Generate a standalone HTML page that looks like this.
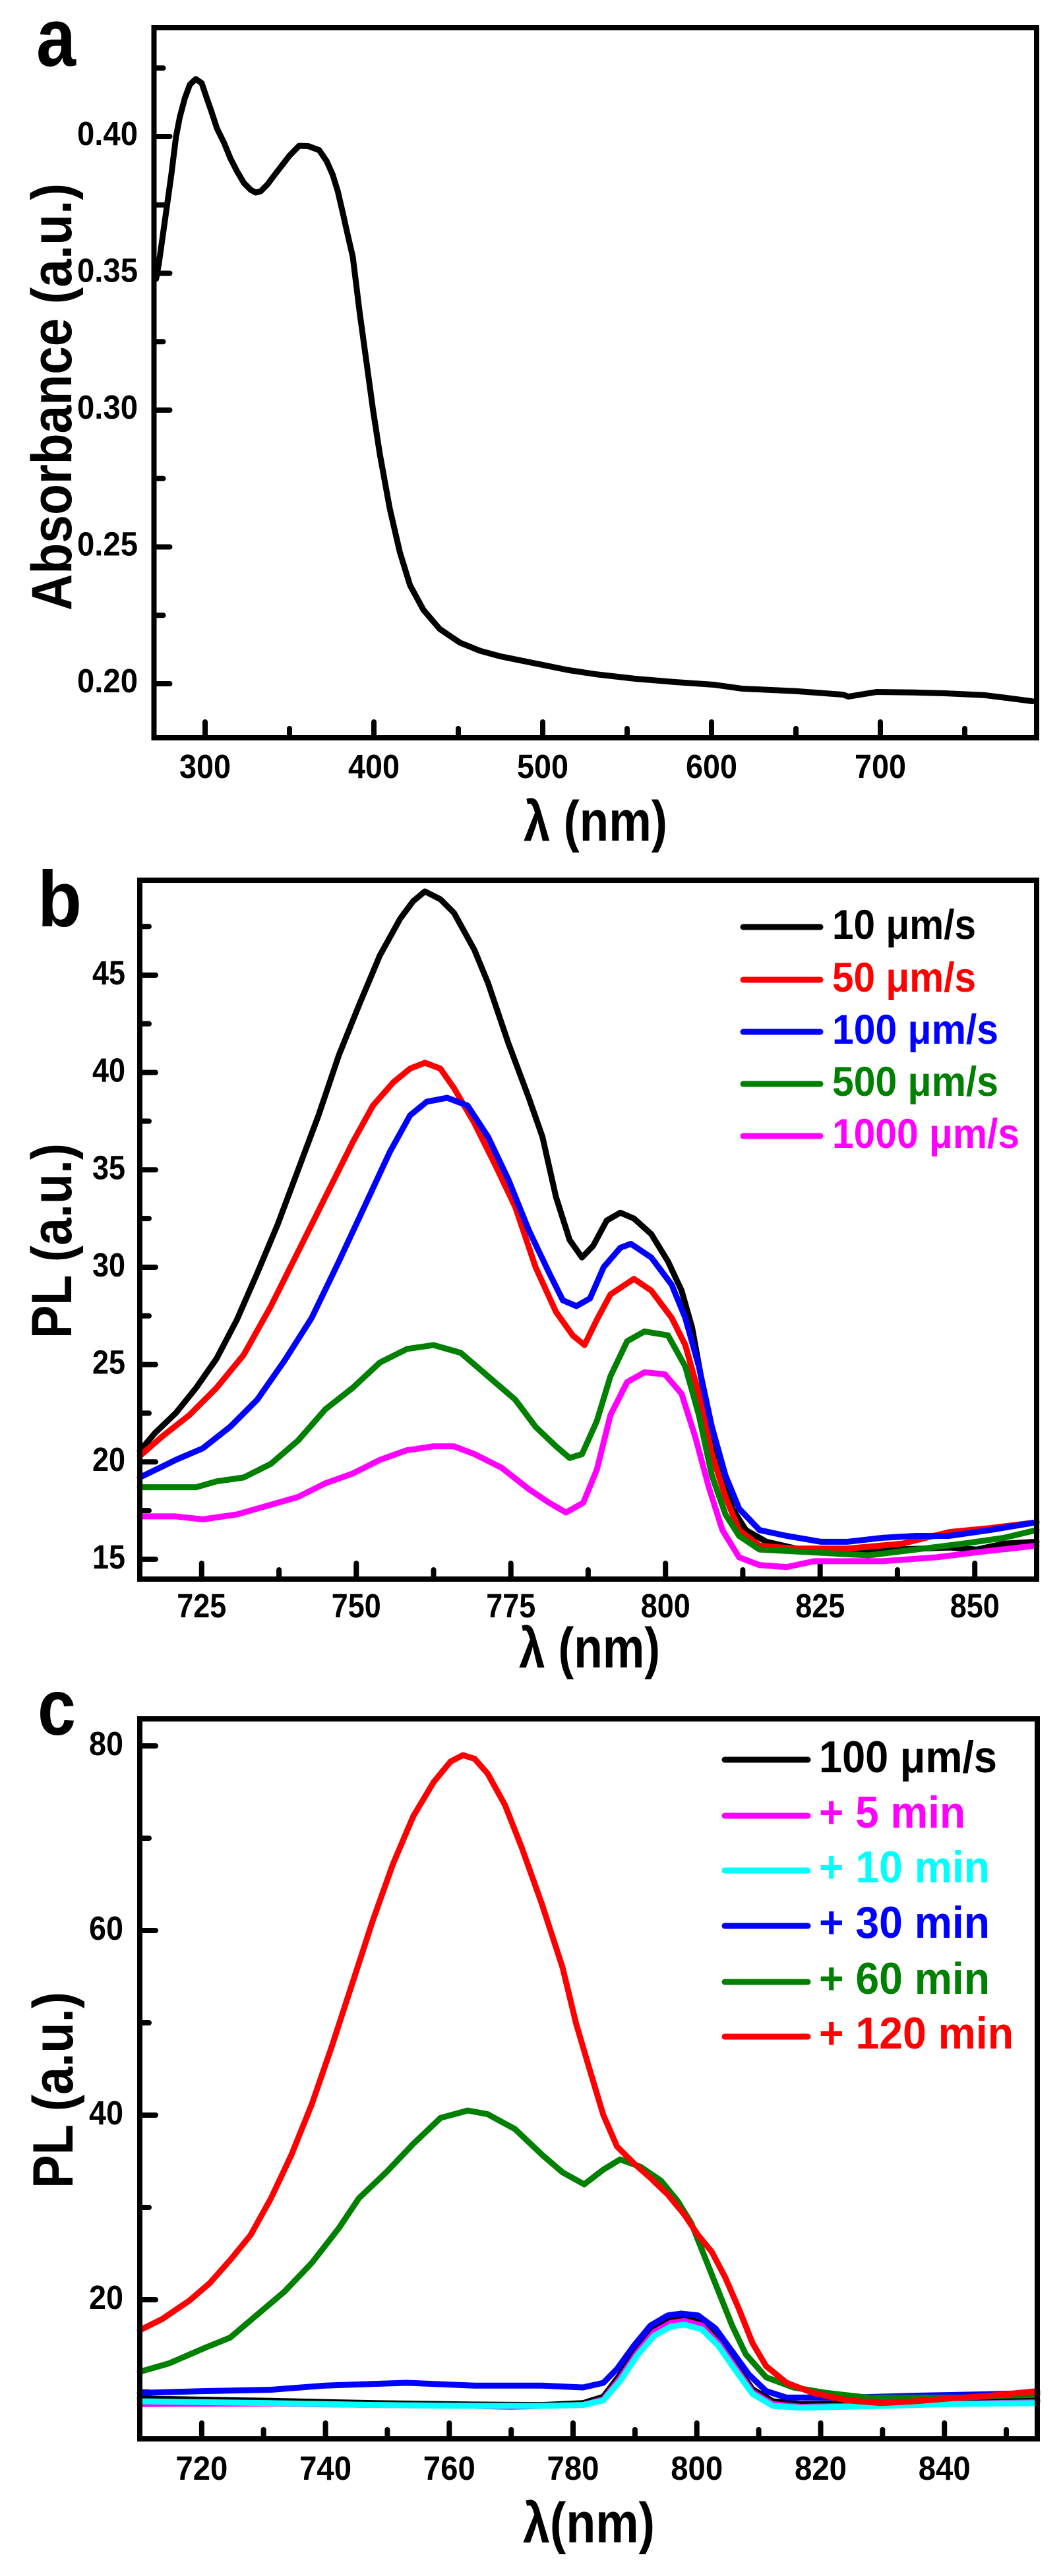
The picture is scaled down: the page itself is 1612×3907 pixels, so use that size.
<!DOCTYPE html>
<html>
<head>
<meta charset="utf-8">
<style>
html,body{margin:0;padding:0;background:#fff;}
svg{display:block;}
text{font-family:"Liberation Sans",Arial,sans-serif;font-weight:bold;}
</style>
</head>
<body>
<svg width="1612" height="3907" viewBox="0 0 1612 3907" xmlns="http://www.w3.org/2000/svg">
<rect x="0" y="0" width="1612" height="3907" fill="#fff"/>

<!-- ================= PANEL A ================= -->
<text x="55" y="100" font-size="125" textLength="60" lengthAdjust="spacingAndGlyphs">a</text>

<g fill="none" stroke="#000" stroke-width="8" stroke-linecap="round">
<path d="M233.5 1037h24 M233.5 829.5h24 M233.5 622h24 M233.5 414.5h24 M233.5 207h24"/>
<path d="M233.5 933.25h14 M233.5 725.75h14 M233.5 518.25h14 M233.5 310.75h14 M233.5 103.25h14"/>
<path d="M311 1119v-24 M567 1119v-24 M823 1119v-24 M1079 1119v-24 M1335 1119v-24"/>
<path d="M439 1119v-14 M695 1119v-14 M951 1119v-14 M1207 1119v-14 M1463 1119v-14"/>
</g>

<g font-size="51" text-anchor="end">
<text x="209" y="1050" textLength="92" lengthAdjust="spacingAndGlyphs">0.20</text>
<text x="209" y="842.5" textLength="92" lengthAdjust="spacingAndGlyphs">0.25</text>
<text x="209" y="635" textLength="92" lengthAdjust="spacingAndGlyphs">0.30</text>
<text x="209" y="427.5" textLength="92" lengthAdjust="spacingAndGlyphs">0.35</text>
<text x="209" y="220" textLength="92" lengthAdjust="spacingAndGlyphs">0.40</text>
</g>
<g font-size="51" text-anchor="middle">
<text x="311" y="1180" textLength="78" lengthAdjust="spacingAndGlyphs">300</text>
<text x="567" y="1180" textLength="78" lengthAdjust="spacingAndGlyphs">400</text>
<text x="823" y="1180" textLength="78" lengthAdjust="spacingAndGlyphs">500</text>
<text x="1079" y="1180" textLength="78" lengthAdjust="spacingAndGlyphs">600</text>
<text x="1335" y="1180" textLength="78" lengthAdjust="spacingAndGlyphs">700</text>
</g>

<text transform="translate(108,602) rotate(-90)" font-size="86" text-anchor="middle" textLength="648" lengthAdjust="spacingAndGlyphs">Absorbance (a.u.)</text>
<text x="903" y="1275" font-size="86" text-anchor="middle" textLength="218" lengthAdjust="spacingAndGlyphs">λ (nm)</text>

<g transform="matrix(2.56 0 0 -4.15 -457 1867)">
<polyline vector-effect="non-scaling-stroke" fill="none" stroke="#000" stroke-width="9" stroke-linejoin="round" stroke-linecap="round" points="271,348 272.6,353.5 275,364 277.5,375 280,386 282.8,400 285,407 288,414 291,419 294.5,421 298,419.5 301,414 303.5,409.6 307,403 311.3,397.6 315,392 319,387.2 323,383 327,380.5 330,379.5 333,380 337,382.5 340,385 345,389 350,393 355.7,396.6 361,396.5 367.6,395 372,391 375.6,386 378.6,380 381.6,372 384.5,364 387.5,356 391.5,336 395.5,318 399.5,300 403.5,284 409.4,264 415.4,248 421.4,236 429.3,227 439,220 451,215 463,212 475,210 499,207 515,205 531,203.5 555,201.8 578.6,200.6 602,199.6 618,198.2 650,197.3 678,196 681,195.3 688,196 698,197 720,196.8 738,196.5 762,195.8 775,194.8 790,193.6"/>
</g>

<rect x="233.5" y="42" width="1338.5" height="1077" fill="none" stroke="#000" stroke-width="8"/>

<!-- ================= PANEL B ================= -->
<text x="57" y="1405" font-size="120" textLength="67" lengthAdjust="spacingAndGlyphs">b</text>

<g fill="none" stroke="#000" stroke-width="8" stroke-linecap="round">
<path d="M212 2364.9h24 M212 2217.2h24 M212 2069.6h24 M212 1921.95h24 M212 1774.3h24 M212 1626.65h24 M212 1479h24"/>
<path d="M212 2291.1h14 M212 2143.4h14 M212 1995.8h14 M212 1848.1h14 M212 1700.5h14 M212 1552.8h14 M212 1405.2h14"/>
<path d="M305.8 2395v-24 M540.3 2395v-24 M774.7 2395v-24 M1009.2 2395v-24 M1243.7 2395v-24 M1478.2 2395v-24"/>
<path d="M423.1 2395v-14 M657.5 2395v-14 M891.9 2395v-14 M1126.4 2395v-14 M1360.9 2395v-14"/>
</g>

<g font-size="51" text-anchor="end">
<text x="190" y="2379" textLength="50" lengthAdjust="spacingAndGlyphs">15</text>
<text x="190" y="2231" textLength="50" lengthAdjust="spacingAndGlyphs">20</text>
<text x="190" y="2083.6" textLength="50" lengthAdjust="spacingAndGlyphs">25</text>
<text x="190" y="1936" textLength="50" lengthAdjust="spacingAndGlyphs">30</text>
<text x="190" y="1788.3" textLength="50" lengthAdjust="spacingAndGlyphs">35</text>
<text x="190" y="1640.6" textLength="50" lengthAdjust="spacingAndGlyphs">40</text>
<text x="190" y="1493" textLength="50" lengthAdjust="spacingAndGlyphs">45</text>
</g>
<g font-size="51" text-anchor="middle">
<text x="305.8" y="2453" textLength="75" lengthAdjust="spacingAndGlyphs">725</text>
<text x="540.3" y="2453" textLength="75" lengthAdjust="spacingAndGlyphs">750</text>
<text x="774.7" y="2453" textLength="75" lengthAdjust="spacingAndGlyphs">775</text>
<text x="1009.2" y="2453" textLength="75" lengthAdjust="spacingAndGlyphs">800</text>
<text x="1243.7" y="2453" textLength="75" lengthAdjust="spacingAndGlyphs">825</text>
<text x="1478.2" y="2453" textLength="75" lengthAdjust="spacingAndGlyphs">850</text>
</g>

<text transform="translate(108,1882) rotate(-90)" font-size="86" text-anchor="middle" textLength="296" lengthAdjust="spacingAndGlyphs">PL (a.u.)</text>
<text x="894" y="2529" font-size="86" text-anchor="middle" textLength="214" lengthAdjust="spacingAndGlyphs">λ (nm)</text>

<g transform="matrix(9.379 0 0 -29.53 -6494 2807.85)" fill="none" stroke-width="9" stroke-linejoin="round" stroke-linecap="round">
<polyline vector-effect="non-scaling-stroke" stroke="#000" points="715,20.56 717.5,21.5 720.8,22.5 724.1,23.8 727.4,25.3 730.7,27.3 734,29.7 737.3,32.2 740.6,35 743.9,37.8 747.2,40.9 750.5,43.5 753.8,46 757.1,47.9 759.2,48.8 761.1,49.3 763.6,48.9 765.8,48.2 769.1,46.3 771.3,44.6 774.6,41.5 777.9,38.7 780.1,36.7 782.3,33.6 784.5,31.4 786.5,30.5 788.3,31.1 790.5,32.4 792.7,32.8 794.9,32.5 797.7,31.7 800.4,30.3 802.6,28.8 804.3,26.9 805.9,24.1 807.5,21.5 809.2,19.3 810.8,17.6 813,16.5 816.3,15.9 821.8,15.5 829.5,15.35 837.2,15.5 845.9,15.6 850.3,15.5 854.7,15.8 860,15.9"/>
<polyline vector-effect="non-scaling-stroke" stroke="#f00" points="715,20.3 718.6,21.3 723,22.4 727.4,23.8 731.8,25.5 736.2,28 740.6,30.8 745,33.6 749.4,36.4 752.7,38.3 756,39.5 758.7,40.2 761.1,40.5 763.6,40.2 765.8,39.2 769.1,37.4 772.4,35.3 775.7,33.1 779,30 782.3,27.7 785,26.5 786.9,26 788.9,27.3 791.1,28.6 794.9,29.4 797.7,28.8 801,27.4 803.2,26 805.4,23.5 807.5,20.4 809.7,18.2 811.9,16.5 815.2,15.7 820.7,15.55 829.5,15.55 838.3,15.8 845.9,16.4 852.5,16.6 860,16.9"/>
<polyline vector-effect="non-scaling-stroke" stroke="#00f" points="715,19.2 720.8,20.1 725.2,20.7 729.6,21.8 734,23.2 738.4,25.2 742.8,27.4 747.2,30.3 751.6,33.3 755.4,35.9 758.7,37.8 761.4,38.5 764.7,38.7 768,38.3 771.3,36.7 774.6,34.5 777.9,31.9 781.2,29.7 783.4,28.3 785.6,28 787.8,28.4 790,30 792.7,31 794.4,31.2 797.7,30.5 801,29.1 803.2,27.4 805.4,24.9 807.5,21.8 809.7,19.3 811.9,17.6 815.2,16.5 819.6,16.2 825.1,15.9 829.5,15.9 835,16.1 840.5,16.2 845.9,16.2 852.5,16.5 860,16.9"/>
<polyline vector-effect="non-scaling-stroke" stroke="#008000" points="715,18.7 724.1,18.7 727.4,19 731.8,19.2 736.2,19.9 740.6,21.1 745,22.7 749.4,23.8 753.8,25.1 758.2,25.8 762.5,26 766.9,25.6 771.3,24.4 775.7,23.2 779,21.8 782.3,20.8 784.5,20.2 786.5,20.4 788.9,22.1 791.1,24.4 793.8,26.2 796.6,26.7 800.4,26.5 803.2,24.9 805.4,22.4 807.5,19.3 809.7,17.3 811.9,16.2 815.2,15.5 824,15.35 832.8,15.2 840.5,15.5 848.1,15.8 854.7,16.1 860,16.5"/>
<polyline vector-effect="non-scaling-stroke" stroke="#f0f" points="715,17.2 720.8,17.2 725.2,17.05 730.7,17.3 736.2,17.8 740.6,18.2 745,18.9 749.4,19.4 753.8,20.1 758.2,20.6 762.5,20.8 765.8,20.8 769.1,20.4 773.5,19.7 777.9,18.6 781.2,17.9 783.9,17.4 786.7,17.9 788.9,19.6 791.1,22.4 793.8,24.1 796.6,24.6 799.9,24.5 802.6,23.5 804.8,21.3 807,18.7 809.2,16.5 811.9,15.1 815.2,14.7 819.6,14.6 824,14.9 835,14.9 843.8,15.1 851.5,15.4 860,15.7"/>
</g>

<!-- legend b -->
<g stroke-width="9" stroke-linecap="round">
<line x1="1127" y1="1406" x2="1244" y2="1406" stroke="#000"/>
<line x1="1127" y1="1486" x2="1244" y2="1486" stroke="#f00"/>
<line x1="1127" y1="1565" x2="1244" y2="1565" stroke="#00f"/>
<line x1="1127" y1="1644" x2="1244" y2="1644" stroke="#008000"/>
<line x1="1127" y1="1723" x2="1244" y2="1723" stroke="#f0f"/>
</g>
<g font-size="63">
<text x="1262" y="1424" fill="#000" textLength="218" lengthAdjust="spacingAndGlyphs">10 μm/s</text>
<text x="1262" y="1504" fill="#f00" textLength="218" lengthAdjust="spacingAndGlyphs">50 μm/s</text>
<text x="1262" y="1583" fill="#00f" textLength="252" lengthAdjust="spacingAndGlyphs">100 μm/s</text>
<text x="1262" y="1662" fill="#008000" textLength="252" lengthAdjust="spacingAndGlyphs">500 μm/s</text>
<text x="1262" y="1741" fill="#f0f" textLength="284" lengthAdjust="spacingAndGlyphs">1000 μm/s</text>
</g>

<rect x="212" y="1335" width="1360" height="1060" fill="none" stroke="#000" stroke-width="8"/>

<!-- ================= PANEL C ================= -->
<text x="57" y="2631" font-size="121" textLength="58" lengthAdjust="spacingAndGlyphs">c</text>

<g fill="none" stroke="#000" stroke-width="8" stroke-linecap="round">
<path d="M212 3488h24 M212 3208h24 M212 2928h24 M212 2648h24"/>
<path d="M212 3628h14 M212 3348h14 M212 3068h14 M212 2788h14"/>
<path d="M305.9 3699v-24 M493.6 3699v-24 M681.3 3699v-24 M869 3699v-24 M1056.7 3699v-24 M1244.5 3699v-24 M1432.2 3699v-24"/>
<path d="M399.7 3699v-14 M587.4 3699v-14 M775.2 3699v-14 M962.9 3699v-14 M1150.6 3699v-14 M1338.3 3699v-14 M1526 3699v-14"/>
</g>

<g font-size="51" text-anchor="end">
<text x="187" y="3502" textLength="52" lengthAdjust="spacingAndGlyphs">20</text>
<text x="187" y="3222" textLength="52" lengthAdjust="spacingAndGlyphs">40</text>
<text x="187" y="2942" textLength="52" lengthAdjust="spacingAndGlyphs">60</text>
<text x="187" y="2662" textLength="52" lengthAdjust="spacingAndGlyphs">80</text>
</g>
<g font-size="51" text-anchor="middle">
<text x="305.9" y="3761" textLength="79" lengthAdjust="spacingAndGlyphs">720</text>
<text x="493.6" y="3761" textLength="79" lengthAdjust="spacingAndGlyphs">740</text>
<text x="681.3" y="3761" textLength="79" lengthAdjust="spacingAndGlyphs">760</text>
<text x="869" y="3761" textLength="79" lengthAdjust="spacingAndGlyphs">780</text>
<text x="1056.7" y="3761" textLength="79" lengthAdjust="spacingAndGlyphs">800</text>
<text x="1244.5" y="3761" textLength="79" lengthAdjust="spacingAndGlyphs">820</text>
<text x="1432.2" y="3761" textLength="79" lengthAdjust="spacingAndGlyphs">840</text>
</g>

<text transform="translate(110,3170) rotate(-90)" font-size="86" text-anchor="middle" textLength="298" lengthAdjust="spacingAndGlyphs">PL (a.u.)</text>
<text x="893" y="3856" font-size="86" text-anchor="middle" textLength="200" lengthAdjust="spacingAndGlyphs">λ(nm)</text>

<g transform="matrix(9.386 0 0 -14 -6452.06 3768)" fill="none" stroke-width="9" stroke-linejoin="round" stroke-linecap="round">
<polyline vector-effect="non-scaling-stroke" stroke="#000" points="710,9.3 731,9.05 748,8.8 764,8.65 775,8.6 781.6,8.8 784.9,9.5 787.6,11.9 790.4,14.7 793.1,16.8 795.8,17.8 798,18 800.8,17.5 803.5,15.6 806.3,12.9 809,10.3 812.3,9 816.7,8.7 829.8,8.8 840.8,8.9 855,9.1"/>
<polyline vector-effect="non-scaling-stroke" stroke="#f0f" points="710,8.7 731,8.75 748,8.6 764,8.5 770,8.4 775,8.5 781.6,8.6 784.9,9.2 787.6,11.5 790.4,14.3 793.1,16.5 795.8,17.5 798,17.7 800.8,17.2 803.5,15.3 806.3,12.6 809,10 812.3,8.7 816.7,8.4 829.8,8.55 840.8,8.7 855,8.9"/>
<polyline vector-effect="non-scaling-stroke" stroke="#0ff" points="710,9 731,8.8 748,8.6 764,8.5 775,8.5 781.6,8.6 784.9,9.1 787.6,11.2 790.4,14 793.1,16.1 795.8,17.1 798,17.3 800.8,16.8 803.5,15 806.3,12.3 809,9.8 812.3,8.5 816.7,8.3 829.8,8.5 840.8,8.7 855,8.8"/>
<polyline vector-effect="non-scaling-stroke" stroke="#00f" points="710,9.9 720.2,10.1 731.2,10.25 739.9,10.7 753.1,11 764.1,10.7 775,10.7 781.6,10.5 784.9,11 787.1,12.5 789.8,15 792.5,17.2 795.3,18.3 797.5,18.5 800.2,18.3 803,16.9 805.7,14.4 808.4,11.9 811.2,10.1 814.5,9.4 824.3,9.4 835.3,9.6 846.2,9.75 855,9.9"/>
<polyline vector-effect="non-scaling-stroke" stroke="#008000" points="710,12.2 714.7,13.1 720.2,14.7 724.6,15.9 729,18.4 733.4,20.9 737.8,24 742.1,27.7 745.4,31 749.8,33.8 754.2,36.9 758.6,39.7 763,40.5 766.2,40.1 770.6,38.5 775,35.7 778.3,33.8 781.8,32.5 784.9,34.1 787.6,35.2 790.9,34.4 794.2,32.9 796.9,30.7 799.1,28.3 801.3,24.6 803.5,20.9 805.7,17.2 807.9,14.1 811.2,11.6 815.6,10.5 821,9.9 827.6,9.4 835.3,9.4 843,9.4 849.5,9.6 855,9.7"/>
<polyline vector-effect="non-scaling-stroke" stroke="#f00" points="710,16.7 713.6,17.9 718,19.9 721.3,21.8 724.6,24.3 727.9,27 731.2,31 734.5,35.7 737.8,41.2 741,47.4 744.3,54.2 747.6,61 750.9,67.2 754.2,72.4 757.5,76.1 760.2,78.3 762.2,79 764.1,78.6 766.2,77 769,73.6 771.7,69 775,62.8 778.3,56 780.5,49.9 782.7,44.9 784.9,40 787.1,36.6 789.8,34.8 792.5,33.2 795.3,31.4 798,29.2 800.2,27 802.4,25.2 804.6,22.4 806.8,19 809,15.3 811.2,12.8 814.5,11 818.8,9.9 824.3,9.1 829.8,8.8 835.3,9 840.8,9.3 847.3,9.6 855,10.1"/>
</g>

<!-- legend c -->
<g stroke-width="9" stroke-linecap="round">
<line x1="1099" y1="2669" x2="1225" y2="2669" stroke="#000"/>
<line x1="1099" y1="2754" x2="1225" y2="2754" stroke="#f0f"/>
<line x1="1099" y1="2837" x2="1225" y2="2837" stroke="#0ff"/>
<line x1="1099" y1="2921" x2="1225" y2="2921" stroke="#00f"/>
<line x1="1099" y1="3006" x2="1225" y2="3006" stroke="#008000"/>
<line x1="1099" y1="3089" x2="1225" y2="3089" stroke="#f00"/>
</g>
<g font-size="68">
<text x="1242" y="2688" fill="#000" textLength="270" lengthAdjust="spacingAndGlyphs">100 μm/s</text>
<text x="1242" y="2772" fill="#f0f" textLength="222" lengthAdjust="spacingAndGlyphs">+ 5 min</text>
<text x="1242" y="2855" fill="#0ff" textLength="259" lengthAdjust="spacingAndGlyphs">+ 10 min</text>
<text x="1242" y="2939" fill="#00f" textLength="259" lengthAdjust="spacingAndGlyphs">+ 30 min</text>
<text x="1242" y="3024" fill="#008000" textLength="259" lengthAdjust="spacingAndGlyphs">+ 60 min</text>
<text x="1242" y="3107" fill="#f00" textLength="295" lengthAdjust="spacingAndGlyphs">+ 120 min</text>
</g>

<rect x="212" y="2607" width="1361" height="1092" fill="none" stroke="#000" stroke-width="8"/>
</svg>
</body>
</html>
